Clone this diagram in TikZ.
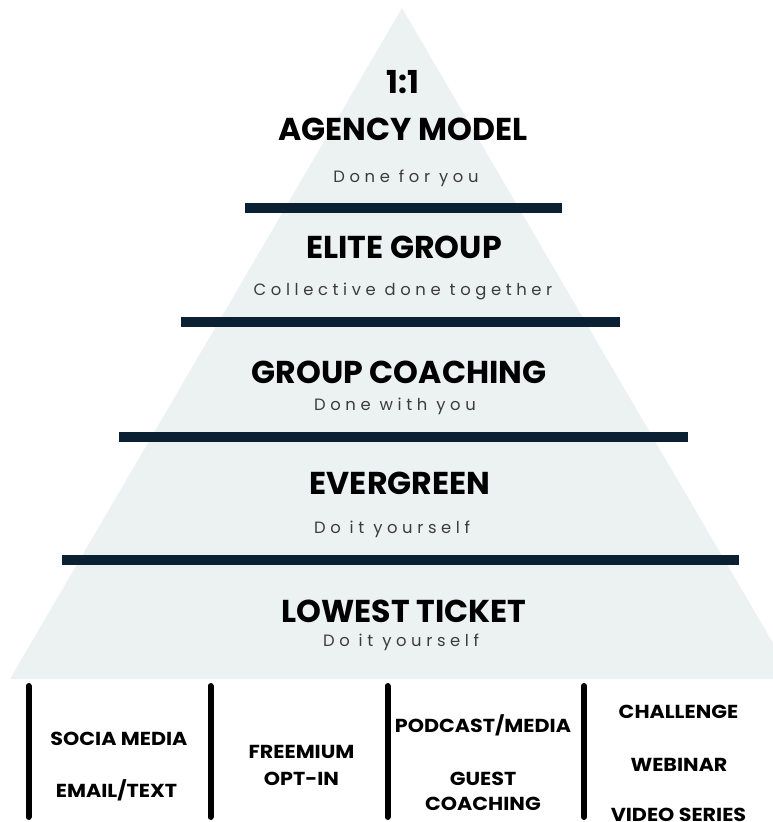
\documentclass[tikz,border=0pt]{standalone}
\usepackage{fontspec}
\newfontfamily\headfont{Poppins}
\newfontfamily\chanfont{Poppins}[FakeStretch=1.1]
\newfontfamily\subfont{Poppins}[LetterSpace=28]
\definecolor{pyrfill}{RGB}{236,241,241}
\definecolor{barnavy}{RGB}{12,32,51}
\definecolor{subgray}{RGB}{60,60,60}
\tikzset{
  heading/.style={anchor=base, inner sep=0pt, font=\headfont\bfseries\fontsize{31.6}{31.6}\selectfont, text=black},
  subtitle/.style={anchor=base, inner sep=0pt, font=\subfont\fontsize{16.4}{16.4}\selectfont, text=subgray},
  chan/.style={anchor=base, inner sep=0pt, font=\chanfont\bfseries\fontsize{18.8}{18.8}\selectfont, text=black},
  tierbar/.style={fill=barnavy, draw=none},
  divider/.style={line width=6pt, line cap=round, draw=black}
}
\begin{document}
\begin{tikzpicture}[x=1pt, y=-1pt]
\useasboundingbox (0,0) rectangle (773,822);
\begin{scope}
\clip (0,0) rectangle (773,822);
\fill[pyrfill] (402,8) -- (10,679) -- (794,679) -- cycle;
\end{scope}
% bars
\fill[tierbar] (245,203) rectangle (562,213);
\fill[tierbar] (181,317) rectangle (620,327);
\fill[tierbar] (119,432) rectangle (688,442);
\fill[tierbar] (62,555) rectangle (739,565);
% tier texts
\node[heading] (t1a) at (403,93) {1:1};
\node[heading] (t1b) at (403,140) {AGENCY MODEL};
\node[subtitle] (t1c) at (406,182) {Done for you};
\node[heading] (t2a) at (404,258) {ELITE GROUP};
\node[subtitle] (t2c) at (403,295) {Collective done together};
\node[heading] (t3a) at (399,383) {GROUP COACHING};
\node[subtitle] (t3c) at (395,410) {Done with you};
\node[heading] (t4a) at (400,494) {EVERGREEN};
\node[subtitle] (t4c) at (392,533) {Do it yourself};
\node[heading] (t5a) at (404,622) {LOWEST TICKET};
\node[subtitle] (t5c) at (401,646) {Do it yourself};
% dividers
\coordinate (d1t) at (28.5,686); \coordinate (d1b) at (28.5,817);
\coordinate (d2t) at (210.5,686); \coordinate (d2b) at (210.5,817);
\coordinate (d3t) at (387.5,686); \coordinate (d3b) at (387.5,817);
\coordinate (d4t) at (584,686); \coordinate (d4b) at (584,817);
\draw[divider] (d1t) -- (d1b);
\draw[divider] (d2t) -- (d2b);
\draw[divider] (d3t) -- (d3b);
\draw[divider] (d4t) -- (d4b);
% channels
\node[chan] (c1) at (119,745) {SOCIA MEDIA};
\node[chan] (c2) at (116.5,797) {EMAIL/TEXT};
\node[chan] (c3) at (301.5,758) {FREEMIUM};
\node[chan] (c4) at (301.5,785) {OPT-IN};
\node[chan] (c5) at (483,732) {PODCAST/MEDIA};
\node[chan] (c6) at (483,785) {GUEST};
\node[chan] (c7) at (483,810) {COACHING};
\node[chan] (c8) at (678.5,718) {CHALLENGE};
\node[chan] (c9) at (679,771) {WEBINAR};
\node[chan] (c10) at (678.5,821) {VIDEO SERIES};
\end{tikzpicture}
\end{document}
